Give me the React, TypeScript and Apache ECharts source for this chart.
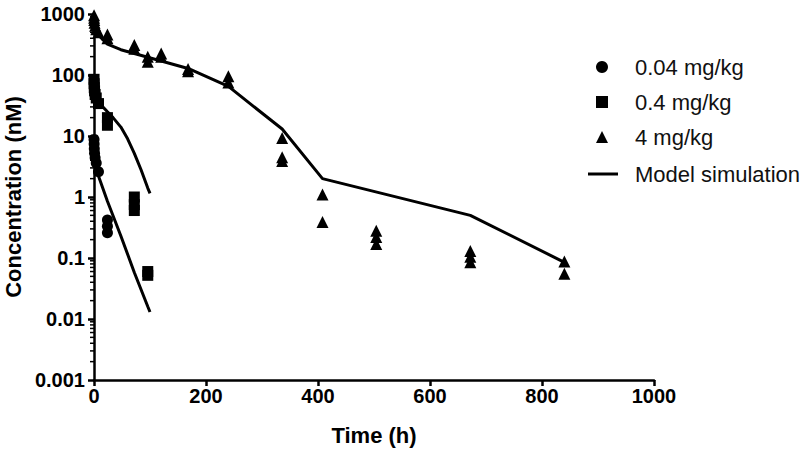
import React, { useEffect, useRef } from "react";
import * as echarts from "echarts";

const FONT = "'Liberation Sans', Arial, Helvetica, sans-serif";

// 0.04 mg/kg observations
const dose004Time = [0.083, 0.25, 0.5, 1, 2, 4, 8, 24, 24, 24];
const dose004Conc = [8.8, 7.4, 6.2, 5.2, 4.4, 3.6, 2.6, 0.42, 0.33, 0.26];

// 0.4 mg/kg observations
const dose04Time = [0.083, 0.25, 0.5, 1, 2, 4, 8, 24, 24, 72, 72, 72, 96, 96];
const dose04Conc = [85, 72, 62, 55, 48, 42, 34, 20, 15, 1.0, 0.75, 0.6, 0.06, 0.052];

// 4 mg/kg observations
const dose4Time = [0.083, 0.25, 0.5, 1, 2, 4, 8, 24, 24, 72, 72, 96, 96, 120, 120, 168, 168, 240, 240, 336, 336, 336, 408, 408, 504, 504, 504, 672, 672, 672, 840, 840];
const dose4Conc = [950, 870, 800, 720, 640, 560, 500, 460, 400, 310, 270, 200, 165, 225, 200, 125, 115, 95, 75, 9.3, 4.5, 3.9, 1.1, 0.39, 0.28, 0.22, 0.17, 0.13, 0.105, 0.085, 0.088, 0.055];

// Model simulations
const model004Time = [0, 1, 4, 8, 24, 48, 72, 96, 100];
const model004Conc = [9, 6.5, 3.8, 2.2, 0.85, 0.23, 0.058, 0.016, 0.013];
const model04Time = [0, 4, 8, 16, 24, 34, 48, 60, 72, 84, 96, 100];
const model04Conc = [95, 55, 40, 30, 25, 20, 14, 9, 5.2, 2.8, 1.4, 1.15];
const model4Time = [0, 2, 8, 24, 48, 96, 168, 240, 336, 408, 672, 840];
const model4Conc = [950, 700, 450, 320, 260, 195, 128, 65, 13, 2.0, 0.5, 0.085];

// Axis ticks
const xTicks = [0, 200, 400, 600, 800, 1000];
const yTickLabels = ["0.001", "0.01", "0.1", "1", "10", "100", "1000"];

const zip = (t: number[], c: number[]) => t.map((v, i) => [v, c[i]]);

export default function App() {
  const ref = useRef<HTMLDivElement>(null);
  useEffect(() => {
    if (!ref.current) return;
    const chart = echarts.init(ref.current, undefined, { renderer: "svg" });

    const minorTicks: number[][] = [];
    for (let e = -3; e < 3; e++) {
      for (let k = 2; k <= 9; k++) minorTicks.push([0, k * Math.pow(10, e)]);
    }

    const lineStyle = { color: "#000", width: 3 };
    const legendText = { fontFamily: FONT, fontSize: 22, color: "#111", lineHeight: 24 };
    chart.setOption({
      animation: false,
      backgroundColor: "#fff",
      textStyle: { fontFamily: FONT },
      grid: { left: 94, right: 146, top: 14, bottom: 71, outerBoundsMode: "none", containLabel: false },
      legend: [
        {
          orient: "vertical",
          left: 591,
          top: 50,
          itemWidth: 12,
          itemHeight: 12,
          itemGap: 11,
          data: [
            { name: "0.04 mg/kg", icon: "circle" },
            { name: "0.4 mg/kg", icon: "rect" },
            { name: "4 mg/kg", icon: "triangle" },
          ],
          textStyle: { ...legendText, padding: [0, 0, 0, 22] },
        },
        {
          orient: "vertical",
          left: 583,
          top: 157,
          itemWidth: 30,
          itemHeight: 12,
          data: [{ name: "Model simulation", icon: "path://M0,0H30V3H0Z" }],
          lineStyle: { color: "#000", width: 3 },
          itemStyle: { color: "#000" },
          textStyle: { ...legendText, padding: [0, 0, 0, 12] },
        },
      ],
      xAxis: {
        type: "value",
        min: xTicks[0],
        max: xTicks[xTicks.length - 1],
        interval: 200,
        name: "Time (h)",
        nameLocation: "middle",
        nameGap: 44,
        nameTextStyle: { fontFamily: FONT, fontSize: 22, fontWeight: "bold", color: "#000" },
        axisLine: { show: true, onZero: false, lineStyle: { color: "#000", width: 2.5 } },
        axisTick: { show: true, length: 6, lineStyle: { color: "#000", width: 2.5 } },
        splitLine: { show: false },
        axisLabel: {
          fontFamily: FONT,
          fontSize: 20,
          fontWeight: "bold",
          color: "#000",
          margin: 6,
          formatter: (v: number) => String(v),
        },
      },
      yAxis: {
        type: "log",
        logBase: 10,
        min: 0.001,
        max: 1000,
        interval: 1,
        name: "Concentration (nM)",
        nameLocation: "middle",
        nameGap: 55,
        nameTextStyle: { fontFamily: FONT, fontSize: 22, fontWeight: "bold", color: "#000" },
        axisLine: { show: true, onZero: false, lineStyle: { color: "#000", width: 2.5 } },
        axisTick: { show: true, length: 6, lineStyle: { color: "#000", width: 2.5 } },
        splitLine: { show: false },
        axisLabel: {
          fontFamily: FONT,
          fontSize: 20,
          fontWeight: "bold",
          color: "#000",
          margin: 9,
          formatter: (v: number) => yTickLabels[Math.round(Math.log10(v)) + 3] ?? "",
        },
      },
      series: [
        {
          type: "custom",
          silent: true,
          clip: false,
          data: minorTicks,
          encode: { x: 0, y: 1 },
          renderItem: (_p: any, api: any) => {
            const pt = api.coord([0, api.value(1)]);
            return {
              type: "line",
              shape: { x1: pt[0] - 4, y1: pt[1], x2: pt[0], y2: pt[1] },
              style: { stroke: "#000", lineWidth: 1.5 },
            };
          },
        },
        { name: "Model simulation", type: "line", data: zip(model004Time, model004Conc), symbol: "none", lineStyle, itemStyle: { color: "#000" } },
        { name: "Model simulation", type: "line", data: zip(model04Time, model04Conc), symbol: "none", lineStyle, itemStyle: { color: "#000" } },
        { name: "Model simulation", type: "line", data: zip(model4Time, model4Conc), symbol: "none", lineStyle, itemStyle: { color: "#000" } },
        { name: "0.04 mg/kg", type: "scatter", symbol: "circle", symbolSize: 11, data: zip(dose004Time, dose004Conc), itemStyle: { color: "#000", opacity: 1 } },
        { name: "0.4 mg/kg", type: "scatter", symbol: "rect", symbolSize: 11, data: zip(dose04Time, dose04Conc), itemStyle: { color: "#000", opacity: 1 } },
        { name: "4 mg/kg", type: "scatter", symbol: "triangle", symbolSize: 12, data: zip(dose4Time, dose4Conc), itemStyle: { color: "#000", opacity: 1 } },
      ],
    });
    return () => chart.dispose();
  }, []);
  return <div ref={ref} style={{ position: "fixed", left: 0, top: 0, width: 800, height: 451 }} />;
}
